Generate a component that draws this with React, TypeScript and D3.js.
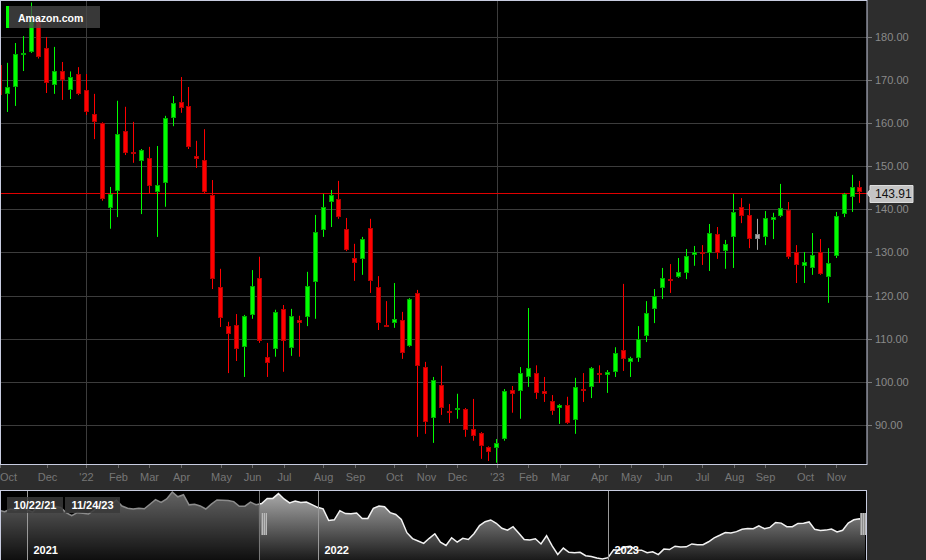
import React from "react";
import * as d3 from "d3";

// Weekly OHLC, week of Oct 18 2021 .. week of Nov 20 2023
const opens = [
  173.5, 166.8, 168.4, 175.9, 176.6, 183.6, 177.4, 168.9, 172.1, 167.7,
  171.4, 167.7, 162.1, 160.0, 140.3, 144.3, 158.2, 153.2, 151.2, 151.9,
  144.0, 146.1, 161.2, 165.0, 164.0, 152.4, 151.5, 143.3, 122.0, 112.9,
  113.2, 108.1, 115.5, 124.1, 105.8, 107.6, 116.9, 107.8, 114.3, 115.0,
  123.2, 135.2, 141.7, 142.4, 135.5, 128.7, 128.5, 135.7, 122.0, 113.1,
  113.6, 114.3, 108.3, 120.6, 103.4, 91.6, 99.3, 93.3, 93.8, 93.7,
  89.0, 88.1, 84.9, 84.6, 86.7, 98.1, 97.9, 101.1, 102.0, 97.9,
  95.5, 93.9, 94.6, 91.1, 98.2, 98.8, 102.1, 101.6, 102.3, 107.4,
  104.6, 105.5, 110.6, 116.9, 121.8, 123.8, 124.3, 125.2, 129.4, 130.1,
  129.9, 134.3, 130.4, 133.6, 140.6, 138.7, 134.3, 133.6, 137.5, 138.5,
  139.9, 130.1, 126.9, 126.4, 130.1, 124.3, 129.2, 138.9, 142.9, 145.2,
];
const highs = [
  174.5, 174.0, 178.6, 180.2, 188.0, 185.0, 180.0, 177.7, 174.2, 172.0,
  173.0, 171.4, 166.8, 160.2, 145.2, 165.2, 163.8, 160.3, 154.0, 154.5,
  154.7, 161.7, 166.3, 170.7, 168.4, 155.9, 158.6, 146.8, 126.2, 113.9,
  115.7, 115.5, 125.9, 129.0, 109.0, 116.7, 117.8, 116.9, 115.3, 125.5,
  138.7, 143.6, 144.5, 146.6, 138.0, 132.0, 133.6, 137.8, 124.5, 118.7,
  122.9, 116.2, 119.4, 121.3, 104.6, 101.1, 103.7, 94.8, 97.2, 93.9,
  96.0, 88.3, 85.0, 86.7, 98.3, 99.0, 103.4, 117.1, 103.8, 101.1,
  96.9, 94.8, 96.5, 100.9, 102.0, 103.4, 103.8, 102.7, 108.0, 122.7,
  105.8, 112.9, 118.7, 121.5, 126.4, 127.3, 128.7, 130.8, 131.5, 131.7,
  136.6, 135.9, 132.9, 143.6, 142.6, 141.3, 137.8, 139.6, 139.2, 145.9,
  141.7, 131.7, 130.1, 134.5, 133.1, 131.0, 139.4, 143.8, 148.0, 146.6,
];
const lows = [
  165.5, 162.6, 164.0, 172.1, 176.3, 175.0, 167.0, 166.8, 165.4, 165.6,
  166.5, 161.9, 156.3, 142.0, 135.5, 138.2, 152.6, 150.8, 138.9, 143.8,
  133.6, 140.6, 159.3, 162.4, 154.0, 149.6, 143.8, 121.5, 112.7, 102.0,
  104.8, 101.1, 114.6, 109.0, 101.1, 105.8, 102.3, 106.0, 105.8, 112.9,
  114.6, 133.6, 135.9, 137.8, 130.3, 123.4, 124.8, 120.6, 112.0, 112.7,
  112.5, 105.3, 108.1, 87.2, 87.9, 85.8, 92.3, 90.4, 91.4, 87.2,
  86.3, 82.1, 81.6, 81.2, 86.3, 92.8, 91.4, 98.8, 96.0, 95.3,
  92.3, 90.2, 90.2, 87.9, 95.3, 96.2, 99.7, 97.4, 101.1, 102.5,
  101.1, 104.6, 109.2, 113.6, 119.2, 120.6, 124.1, 123.8, 126.9, 127.1,
  125.7, 128.5, 126.2, 126.4, 136.8, 131.0, 130.6, 131.7, 133.1, 138.2,
  128.5, 122.9, 122.9, 124.8, 124.8, 118.3, 128.7, 138.2, 139.4, 141.5,
];
const closes = [
  166.5, 168.4, 176.0, 176.2, 183.6, 175.4, 169.3, 172.1, 170.0, 170.7,
  166.8, 162.6, 160.3, 142.4, 143.6, 157.5, 153.1, 152.8, 153.8, 145.4,
  145.6, 161.2, 164.7, 163.5, 154.5, 151.7, 144.0, 123.9, 114.8, 111.1,
  107.6, 115.3, 122.2, 109.5, 104.4, 116.2, 109.5, 115.3, 113.6, 122.2,
  134.8, 140.6, 143.3, 138.2, 130.6, 127.6, 133.1, 123.4, 113.6, 112.9,
  114.6, 106.7, 119.2, 103.6, 90.7, 100.4, 93.9, 93.2, 93.9, 88.8,
  87.4, 85.1, 83.7, 85.8, 97.9, 97.2, 102.0, 103.2, 97.4, 97.2,
  93.2, 94.6, 90.4, 98.8, 98.1, 103.2, 102.0, 102.3, 106.7, 105.3,
  105.5, 110.0, 116.0, 119.9, 124.1, 123.4, 125.5, 129.2, 130.1, 129.9,
  134.5, 129.9, 132.0, 139.4, 138.5, 133.1, 133.1, 138.0, 138.2, 140.3,
  129.0, 127.1, 127.8, 129.4, 125.0, 127.6, 138.5, 143.6, 145.2, 143.91,
];

// Weekly closes before the visible range (week of Nov 30 2020 .. Oct 11 2021), navigator only
const navPreCloses = [
  158.1, 155.8, 160.1, 158.6, 162.8, 159.1, 155.2, 164.6, 160.3, 167.6,
  163.9, 162.5, 154.6, 150.0, 154.5, 153.7, 152.6, 158.1, 168.6, 170.0,
  167.0, 173.4, 164.6, 161.1, 160.2, 161.2, 160.3, 167.3, 174.3, 170.1,
  175.5, 186.0, 178.7, 181.9, 166.4, 167.2, 164.7, 160.0, 167.5, 173.9,
  173.5, 173.1, 171.3, 164.2, 164.4, 170.5,
];

const monthLabels = ["Oct", "Dec", "'22", "Feb", "Mar", "Apr", "May", "Jun", "Jul", "Aug", "Sep", "Oct", "Nov", "Dec",
  "'23", "Feb", "Mar", "Apr", "May", "Jun", "Jul", "Aug", "Sep", "Oct", "Nov"];
const monthWeekIdx = [0, 6, 11, 15, 19, 23, 28, 32, 36, 41, 45, 50, 54, 58, 63, 67, 71, 76, 80, 84, 89, 93, 97, 102, 106];
const yearGridIdx = [11, 63];
const yTicks = [90, 100, 110, 120, 130, 140, 150, 160, 170, 180];
const navYearLabels = ["2021", "2022", "2023"];
const navYearIdx = [5, 57, 109];
const rangeLabels = ["10/22/21", "11/24/23"];
const symbolName = "Amazon.com";
const lastPrice = 143.91;

const FONT = "'Liberation Sans', Arial, sans-serif";

export default function App() {
  const W = 926, H = 560;
  const plotR = 867, plotB = 464;
  const navT = 490, navB = 559;

  const n = closes.length;
  const x = d3.scaleLinear().domain([0, n - 1]).range([-0.5, 859.9]);
  const y = d3.scaleLinear().domain([80.9, 188.35]).range([plotB, 1]);

  const navCloses = navPreCloses.concat(closes);
  const xn = d3.scaleLinear().domain([0, navCloses.length - 1]).range([-0.9, 865]);
  const ext = d3.extent(navCloses) as [number, number];
  const yn = d3.scaleLinear().domain(ext).range([navB, 492]);
  const area = d3.area<number>().x((_, i) => xn(i)).y0(navB + 1).y1((d) => yn(d));
  const line = d3.line<number>().x((_, i) => xn(i)).y((d) => yn(d));
  const selStart = xn(navPreCloses.length + 0.5);
  const selEnd = xn(navCloses.length - 1);

  const up = { fill: "#00ff00", stroke: "#00a800" };
  const down = { fill: "#ff0000", stroke: "#b40000" };
  const flat = { fill: "#a8a8a8", stroke: "#808080" };

  const candles = closes.map((c, i) => {
    const o = opens[i];
    const ref = i === 0 ? o : closes[i - 1];
    const col = c > ref ? up : c < ref ? down : flat;
    const cx = x(i);
    const left = Math.round(cx - 2.5);
    const top = Math.round(y(Math.max(o, c)));
    const bot = Math.round(y(Math.min(o, c)));
    const h = Math.max(bot - top, 2);
    return (
      <g key={i}>
        <line x1={left + 2.5} x2={left + 2.5} y1={y(highs[i])} y2={y(lows[i])} stroke={col.fill} strokeWidth={1} />
        <rect x={left + 0.5} y={top + 0.5} width={4} height={h - 1} fill={col.fill} stroke={col.stroke} strokeWidth={1} />
      </g>
    );
  });

  const priceY = Math.ceil(y(lastPrice)) + 0.5;

  return (
    <div style={{ width: W, height: H }}>
      <style>{"html,body{margin:0;padding:0;background:#2d2d2d;overflow:hidden}"}</style>
      <svg width={W} height={H} style={{ display: "block" }} fontFamily={FONT}>
        <defs>
          <clipPath id="plotClip">
            <rect x={0} y={0} width={plotR} height={plotB} />
          </clipPath>
          <clipPath id="navClip">
            <rect x={0} y={navT} width={plotR - 1} height={navB - navT + 1} />
          </clipPath>
          <linearGradient id="navGrad" gradientUnits="userSpaceOnUse" x1={0} y1={navT} x2={0} y2={H}>
            <stop offset="0%" stopColor="#b0b0b0" />
            <stop offset="100%" stopColor="#1a1a1a" />
          </linearGradient>
        </defs>

        {/* panels */}
        <rect x={0} y={0} width={W} height={H} fill="#2d2d2d" />
        <rect x={0} y={0} width={plotR} height={plotB} fill="#000" />

        {/* grid */}
        {yTicks.map((t) => (
          <line key={"g" + t} x1={0} x2={plotR} y1={Math.round(y(t)) + 0.5} y2={Math.round(y(t)) + 0.5} stroke="#3c3c3c" strokeWidth={1} />
        ))}
        {yearGridIdx.map((k) => (
          <line key={"v" + k} x1={Math.round(x(k)) + 0.5} x2={Math.round(x(k)) + 0.5} y1={0} y2={plotB} stroke="#3c3c3c" strokeWidth={1} />
        ))}

        {/* last price line */}
        <line x1={0} x2={plotR} y1={priceY} y2={priceY} stroke="#e00000" strokeWidth={1} />

        <g clipPath="url(#plotClip)">{candles}</g>

        {/* legend */}
        <rect x={9} y={6} width={91} height={22} fill="rgba(72,72,72,0.78)" />
        <rect x={6} y={6} width={3} height={22} fill="#00ff00" />
        <text x={18} y={21.5} fill="#fff" fontSize={10.5} fontWeight="bold">{symbolName}</text>

        {/* plot border */}
        <rect x={0.5} y={0.5} width={plotR - 0.5} height={plotB} fill="none" stroke="#c8cce0" strokeWidth={1} />

        {/* y axis */}
        {yTicks.map((t) => {
          const yy = Math.round(y(t)) + 0.5;
          return (
            <g key={"y" + t}>
              <line x1={plotR + 1} x2={plotR + 5} y1={yy} y2={yy} stroke="#7a7a7a" />
              <text x={875} y={yy} dy="0.35em" fill="#8a8a8a" fontSize={11}>{t.toFixed(2)}</text>
            </g>
          );
        })}
        <path d={`M${plotR + 0.5},${priceY} L${plotR + 3},${priceY - 4} L${plotR + 3},${priceY - 8} L${913},${priceY - 8} L${913},${priceY + 9} L${plotR + 3},${priceY + 9} L${plotR + 3},${priceY + 4} Z`} fill="#c4c4c4" stroke="#dedede" strokeWidth={1} />
        <text x={875} y={priceY + 0.5} dy="0.37em" fill="#111" fontSize={12}>{lastPrice.toFixed(2)}</text>

        {/* x axis */}
        {monthWeekIdx.map((k, j) => {
          const xx = Math.round(x(k)) + 0.5;
          const lbl = monthLabels[j];
          const clamp = xx < 12;
          return (
            <g key={"m" + j}>
              <line x1={xx} x2={xx} y1={plotB + 1} y2={plotB + 4} stroke="#6a6a6a" />
              <text x={clamp ? 0 : xx} y={481} textAnchor={clamp ? "start" : "middle"} fill="#767676" fontSize={11}>{lbl}</text>
            </g>
          );
        })}

        {/* navigator */}
        <rect x={0} y={navT} width={plotR} height={navB - navT + 1} fill="#000" />
        <g clipPath="url(#navClip)">
          <path d={area(navCloses) || ""} fill="url(#navGrad)" />
          <path d={line(navCloses) || ""} fill="none" stroke="#f2f2f2" strokeWidth={1.5} />
          <rect x={0} y={navT} width={selStart} height={navB - navT + 1} fill="rgba(0,0,0,0.42)" />
          {navYearIdx.map((k, j) => {
            const xx = Math.round(xn(k)) + 0.5;
            return (
              <g key={"ny" + j}>
                <line x1={xx} x2={xx} y1={navT} y2={navB + 1} stroke="#9a9a9a" strokeWidth={1} />
                <text x={xx + 6} y={554} fill="#fff" fontSize={11} fontWeight="bold">{navYearLabels[j]}</text>
              </g>
            );
          })}
          <line x1={Math.round(selStart) + 0.5} x2={Math.round(selStart) + 0.5} y1={navT} y2={navB + 1} stroke="#777" />
        </g>
        {[selStart + 2, selEnd - 5].map((hx, j) => (
          <g key={"h" + j}>
            <rect x={Math.round(hx)} y={513} width={6} height={22} fill="#1a1a1a" />
            {[0, 2, 4].map((o) => (
              <rect key={o} x={Math.round(hx) + o + 0.5} y={513} width={1.2} height={22} fill="#fff" />
            ))}
          </g>
        ))}
        {rangeLabels.map((lbl, j) => {
          const bx = j === 0 ? 7 : 65;
          const bw = j === 0 ? 56 : 55;
          return (
            <g key={"r" + j}>
              <rect x={bx} y={497} width={bw} height={16} fill="rgba(58,58,58,0.85)" />
              <text x={bx + bw / 2} y={509} textAnchor="middle" fill="#fff" fontSize={11} fontWeight="bold">{lbl}</text>
            </g>
          );
        })}
        <line x1={0} x2={plotR} y1={navT + 0.5} y2={navT + 0.5} stroke="#c8cce0" />
        <line x1={0.5} x2={0.5} y1={navT} y2={H} stroke="#c8cce0" />
        <line x1={plotR - 0.5} x2={plotR - 0.5} y1={navT} y2={H} stroke="#c8cce0" />
      </svg>
    </div>
  );
}
